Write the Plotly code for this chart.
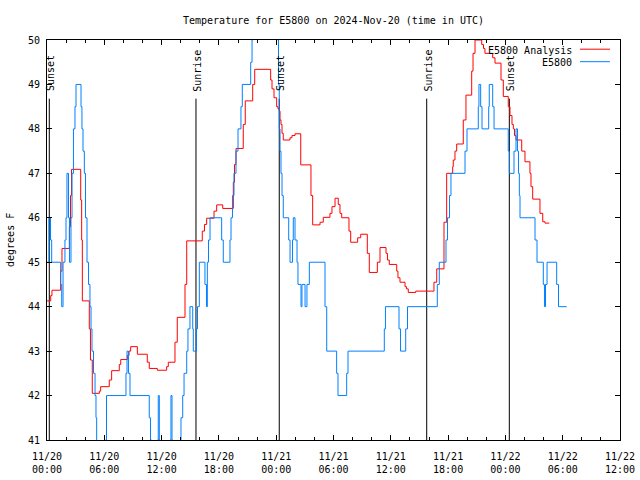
import plotly.graph_objects as go
import pandas as pd

start = pd.Timestamp("2024-11-20 00:00")

# E5800 observations (hours after 11/20 00:00 UTC, deg F)
obs_hours = [0.00, 0.21, 0.37, 0.49, 1.43, 1.54, 1.68, 1.88, 1.99, 2.09, 2.25, 2.36, 2.51, 2.62, 2.77, 2.93, 3.04,
             3.56, 3.66, 3.77, 3.91, 4.03, 4.19, 4.35, 4.50, 4.61, 4.71, 4.87, 5.03, 5.13, 5.20,
             6.13, 6.23, 8.27, 8.38, 8.53, 8.69, 10.71, 10.84, 10.96,
             11.57, 11.65, 11.76, 11.83, 12.88, 12.98, 13.09, 13.16,
             13.93, 14.03, 14.21, 14.35, 14.63, 14.76, 14.97, 15.26, 15.32, 15.65, 15.76, 15.95,
             16.54, 16.70, 16.79, 16.91, 17.07, 18.29, 18.46,
             19.16, 19.27, 19.42, 19.58, 19.79, 20.00, 20.31, 20.45, 21.33, 21.47, 21.57,
             24.16, 24.24, 24.32, 24.40, 24.50, 24.61, 24.74, 25.31, 25.45, 25.71, 25.79,
             25.97, 26.18, 26.28, 26.60, 26.70, 27.02, 27.22, 27.47, 29.11, 29.29,
             30.33, 30.47, 31.38, 31.52, 35.32, 35.44, 36.86, 37.02, 37.56, 37.75,
             40.87, 41.08, 41.78, 41.94, 42.15, 42.30, 43.77, 43.98,
             45.16, 45.23, 45.41, 45.55, 46.25, 46.31, 46.67, 46.81,
             48.30, 48.41, 48.90, 49.11, 49.27, 49.37, 49.46, 49.53,
             51.10, 51.31, 51.97, 52.09, 52.20, 52.36, 53.37, 53.56, 54.42]
obs_temp = [45, 46, 45.5, 45, 44.5, 44, 45, 45.5, 46, 47, 46, 45, 46, 47, 48, 48.5, 49,
            48.5, 48, 47.5, 47, 46, 45, 44.5, 44, 43.5, 43, 42.5, 42, 41.5, 40,
            41, 42, 42.5, 43, 42.5, 42, 41.5, 41, 40,
            41, 42, 41, 40, 41, 42, 41, 40,
            41, 41.5, 42, 42.5, 43, 43.5, 44, 43.5, 43, 43.5, 44, 45,
            44.5, 44, 45, 45.5, 46, 45.5, 45,
            45.5, 46, 46.5, 47, 47.5, 48, 48.5, 49, 49.5, 50, 51,
            50, 49, 48, 47.5, 47, 46.5, 46, 45.5, 45, 45.5, 46,
            45.5, 45, 44.5, 44, 44.5, 44, 44.5, 45, 44, 43,
            42.5, 42, 42.5, 43, 43.5, 44, 43.5, 43, 43.5, 44,
            44.5, 45, 45.5, 46, 46.5, 47, 47.5, 48,
            48.5, 49, 48.5, 48, 48.5, 49, 48.5, 48,
            47.5, 47, 47.5, 48, 47.5, 47, 46.5, 46,
            45.5, 45, 44.5, 44, 44.5, 45, 44.5, 44, 44]

# E5800 Analysis
ana_hours = [0.00, 0.39, 0.52, 1.43, 1.57, 2.34, 2.46, 2.57, 3.53, 3.63, 3.70, 4.43, 4.55, 4.74,
             5.48, 5.62, 6.52, 6.77, 7.57, 7.72, 8.41, 8.59, 8.76, 9.46, 10.50, 10.71, 11.55,
             12.53, 12.70, 13.40, 13.64, 14.45, 14.63, 16.26, 16.49, 16.72, 17.49, 17.77, 18.40,
             19.51, 19.63, 19.79, 20.55, 20.76, 21.54, 21.75, 23.42, 23.56, 23.77, 24.05, 24.19,
             24.32, 24.40, 24.50, 24.61, 24.74, 25.44, 25.65, 25.97, 26.57, 27.64, 27.82,
             28.59, 28.93, 29.63, 29.84, 30.16, 30.50, 30.68, 30.86, 31.62, 31.80, 32.53, 32.85,
             33.54, 33.75, 34.59, 34.87, 35.50, 35.65, 35.84, 36.62, 36.75, 36.96, 37.49, 37.64,
             37.83, 38.61, 40.52, 40.81, 41.57, 41.85, 42.48, 42.54, 42.72, 42.90, 43.59, 43.87,
             44.47, 44.61, 44.82, 45.52, 45.71, 45.86, 46.67, 46.91, 47.54, 47.78, 48.30, 48.48,
             48.69, 48.83, 48.95, 49.11, 49.71, 50.05, 50.57, 50.68, 50.86, 51.62, 51.91, 52.15, 52.60]
ana_temp = [44.13, 44.25, 44.37, 44.8, 45.31, 45.8, 46.5, 47.09, 46.4, 45.5, 44.13, 43.5, 42.8, 42.05,
            42.1, 42.2, 42.35, 42.56, 42.7, 42.81, 42.9, 43.0, 43.1, 42.93, 42.75, 42.61, 42.57,
            42.65, 42.75, 43.2, 43.76, 44.5, 45.48, 45.7, 45.85, 45.99, 46.15, 46.29, 46.21,
            46.8, 47.2, 47.56, 48.1, 48.63, 49.0, 49.34, 49.1, 48.9, 48.7, 48.5, 48.45,
            48.4, 48.2, 48.1, 47.9, 47.75, 47.8, 47.85, 47.89, 47.19, 46.5, 45.84,
            45.9, 46.01, 46.1, 46.25, 46.44, 46.3, 46.1, 46.0, 45.7, 45.45, 45.55, 45.63,
            45.2, 44.77, 45.0, 45.33, 45.2, 45.05, 44.95, 44.8, 44.65, 44.55, 44.45, 44.4,
            44.32, 44.35, 44.55, 44.85, 45.9, 47.0, 47.15, 47.3, 47.5, 47.66, 48.2, 48.76,
            49.3, 49.7, 50.0, 49.9, 49.81, 49.7, 49.6, 49.48, 49.1, 48.73, 48.5, 48.3,
            48.1, 48.0, 47.85, 47.75, 47.5, 47.26, 47.0, 46.7, 46.42, 46.1, 45.91, 45.88, 45.88]

sun_labels = ["Sunset", "Sunrise", "Sunset", "Sunrise", "Sunset"]
sun_hours = [0.24, 15.60, 24.32, 39.76, 48.41]

legend_names = ["E5800 Analysis", "E5800"]
legend_colors = ["#ff0000", "#0080ff"]

def to_time(hours):
    return [start + pd.Timedelta(hours=h) for h in hours]

MONO = "DejaVu Sans Mono"
fig = go.Figure()
fig.add_trace(go.Scatter(x=to_time(ana_hours), y=ana_temp, mode="lines", name=legend_names[0],
                         line=dict(color=legend_colors[0], width=1, shape="hv"), showlegend=False))
fig.add_trace(go.Scatter(x=to_time(obs_hours), y=obs_temp, mode="lines", name=legend_names[1],
                         line=dict(color=legend_colors[1], width=1, shape="hv"), showlegend=False))

sun_times = to_time(sun_hours)
for t, lab in zip(sun_times, sun_labels):
    fig.add_shape(type="line", xref="x", yref="y", x0=t, x1=t, y0=41, y1=48.68,
                  line=dict(color="black", width=1), layer="below")
    fig.add_annotation(x=t, y=48.8, xref="x", yref="y", text=lab, textangle=-90,
                       showarrow=False, xanchor="center", yanchor="bottom", xshift=1.5,
                       font=dict(family=MONO, size=10, color="black"))

# legend (gnuplot style: text then sample line)
leg_y = [0.975, 0.94375]
for name, col, yy in zip(legend_names, legend_colors, leg_y):
    fig.add_annotation(x=0.9197, y=yy, xref="paper", yref="paper", text=name, showarrow=False,
                       xanchor="right", yanchor="middle", font=dict(family=MONO, size=10, color="black"))
    fig.add_shape(type="line", xref="paper", yref="paper", x0=0.9302, x1=0.9825, y0=yy + 0.002, y1=yy + 0.002,
                  line=dict(color=col, width=1))

fig.add_annotation(x=-0.0646, y=0.5, xref="paper", yref="paper", text="degrees F", textangle=-90,
                   showarrow=False, xanchor="center", yanchor="middle",
                   font=dict(family=MONO, size=10, color="black"))

fig.update_layout(
    width=640, height=480,
    margin=dict(l=47, r=20, t=40, b=40, autoexpand=False),
    paper_bgcolor="white", plot_bgcolor="white",
    title=dict(text="Temperature for E5800 on 2024-Nov-20 (time in UTC)", x=0.5, xref="paper",
               y=1 - 20 / 480, yanchor="middle", font=dict(family=MONO, size=10, color="black")),
    font=dict(family=MONO, size=10, color="black"),
)
fig.update_xaxes(
    type="date", range=[start, start + pd.Timedelta(hours=60)],
    dtick=6 * 3600000, tick0=start, tickformat="%m/%d<br>%H:%M",
    showgrid=False, zeroline=False, showline=True, linecolor="black", linewidth=1,
    mirror="ticks", ticks="inside", ticklen=5, tickcolor="black",
    minor=dict(dtick=2 * 3600000, ticks="inside", ticklen=3, tickcolor="black", showgrid=False),
    tickfont=dict(family=MONO, size=10, color="black"), ticklabelstandoff=7, automargin=False,
)
fig.update_yaxes(
    range=[41, 50], dtick=1, tick0=41,
    showgrid=False, zeroline=False, showline=True, linecolor="black", linewidth=1,
    mirror="ticks", ticks="inside", ticklen=5, tickcolor="black",
    tickfont=dict(family=MONO, size=10, color="black"), ticklabelstandoff=4, automargin=False,
)

fig.write_html("out.html", config={"displayModeBar": False},
               post_script="document.body.style.margin='0';document.body.style.overflow='hidden';")
